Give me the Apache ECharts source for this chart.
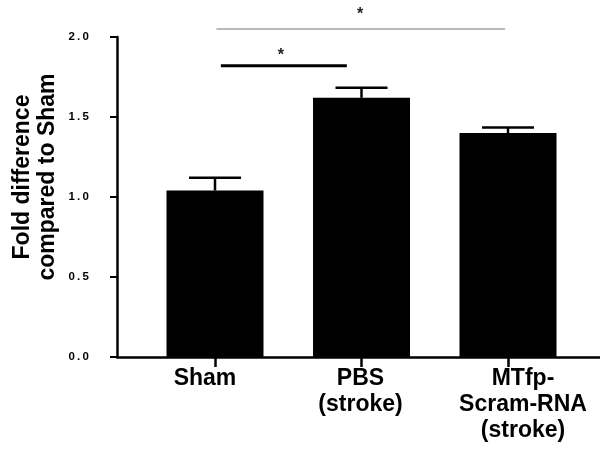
<!DOCTYPE html>
<html lang="en">
<head>
    <meta charset="UTF-8">
    <title>Fold difference</title>
    <script src="https://cdn.jsdelivr.net/npm/echarts@6/dist/echarts.min.js"></script>
    <style>
        html, body { margin: 0; padding: 0; background: #fff; }
        #chart { width: 600px; height: 453px; }
    </style>
</head>
<body>
    <div id="chart"></div>
    <script>
        // data
        const categories = ['Sham', 'PBS\n(stroke)', 'MTfp-\nScram-RNA\n(stroke)'];
        const means = [1.04, 1.62, 1.40];
        const errors = [0.08, 0.063, 0.034];
        const yTicks = [0, 0.5, 1.0, 1.5, 2.0];
        // significance brackets: [from, to, level] in data units, and star [x, level]
        const sigLines = [[0.04, 0.9, 1.82], [0.01, 1.98, 2.05]];
        const sigStars = [[0.45, 1.885], [0.99, 2.14]];
        const sigColors = ['#000', '#777'];
        const sigWidths = [3, 1.2];

        const font = "'Liberation Sans', Arial, sans-serif";
        const catPos = categories.map((c, i) => i);
        // the labels in the figure sit a bit off their ticks
        const labelPad = [[0, 20, 0, 0], [0, 2, 0, 0], [0, 0, 0, 30]];

        let rich = {};
        labelPad.forEach((p, i) => {
            rich['c' + i] = {
                fontFamily: font, fontWeight: 'bold', fontSize: 23, lineHeight: 26,
                color: '#000', padding: p
            };
        });

        let chart = echarts.init(document.getElementById('chart'));
        let option = {
            animation: false,
            backgroundColor: '#fff',
            grid: { left: 117, right: 0, top: 37, bottom: 96 },
            xAxis: {
                type: 'value',
                min: -0.669,
                max: 2.628,
                splitLine: { show: false },
                axisLine: { onZero: false, lineStyle: { color: '#000', width: 2.5 } },
                axisTick: { customValues: catPos, length: 10, lineStyle: { color: '#000', width: 2.5 } },
                axisLabel: {
                    customValues: catPos,
                    formatter: v => {
                        let i = Math.round(v);
                        return categories[i].split('\n').map(s => '{c' + i + '|' + s + '}').join('\n');
                    },
                    rich: rich,
                    margin: 9
                }
            },
            yAxis: {
                type: 'value',
                min: 0,
                max: 2,
                interval: 0.5,
                splitLine: { show: false },
                axisLine: { show: true, onZero: false, lineStyle: { color: '#000', width: 2.5 } },
                axisTick: { show: true, length: 7, lineStyle: { color: '#000', width: 2 } },
                axisLabel: {
                    customValues: yTicks,
                    formatter: v => v.toFixed(1).split('').join('\u2009'),
                    fontFamily: font,
                    fontWeight: 'bold',
                    fontSize: 11.5,
                    color: '#000',
                    margin: 28,
                    padding: [0, 0, 7, 0]
                }
            },
            graphic: [{
                type: 'text',
                x: 35,
                y: 177,
                rotation: Math.PI / 2,
                style: {
                    text: 'Fold difference\ncompared to Sham',
                    font: 'bold 23px ' + font,
                    lineHeight: 25,
                    align: 'center',
                    verticalAlign: 'middle',
                    fill: '#000'
                }
            }],
            series: [
                {
                    type: 'bar',
                    barWidth: 97,
                    itemStyle: { color: '#000' },
                    data: means.map((m, i) => [i, m]),
                    z: 2
                },
                {
                    // error bars (upper only)
                    type: 'custom',
                    z: 3,
                    data: means.map((m, i) => [i, m, m + errors[i]]),
                    renderItem: function (params, api) {
                        let base = api.coord([api.value(0), api.value(1)]);
                        let top = api.coord([api.value(0), api.value(2)]);
                        let half = 26;
                        let st = { stroke: '#000', lineWidth: 2.5 };
                        return {
                            type: 'group',
                            children: [
                                { type: 'line', shape: { x1: base[0], y1: base[1], x2: top[0], y2: top[1] }, style: st },
                                { type: 'line', shape: { x1: top[0] - half, y1: top[1], x2: top[0] + half, y2: top[1] }, style: st }
                            ]
                        };
                    }
                },
                {
                    // significance lines
                    type: 'custom',
                    z: 3,
                    clip: false,
                    data: sigLines,
                    renderItem: function (params, api) {
                        let a = api.coord([api.value(0), api.value(2)]);
                        let b = api.coord([api.value(1), api.value(2)]);
                        let i = params.dataIndex;
                        return {
                            type: 'line',
                            shape: { x1: a[0], y1: a[1], x2: b[0], y2: b[1] },
                            style: { stroke: sigColors[i], lineWidth: sigWidths[i] }
                        };
                    }
                },
                {
                    // stars
                    type: 'custom',
                    z: 3,
                    clip: false,
                    data: sigStars,
                    renderItem: function (params, api) {
                        let p = api.coord([api.value(0), api.value(1)]);
                        return {
                            type: 'text',
                            x: p[0],
                            y: p[1],
                            style: {
                                text: '*',
                                font: 'bold 16px ' + font,
                                align: 'center',
                                verticalAlign: 'middle',
                                fill: '#222'
                            }
                        };
                    }
                }
            ]
        };
        chart.setOption(option);
    </script>
</body>
</html>
